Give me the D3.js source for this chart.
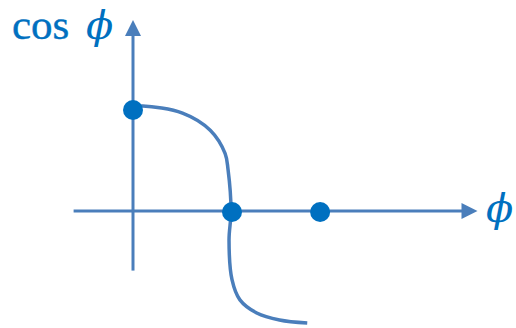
<!DOCTYPE html>
<html>
<head>
<script src="https://d3js.org/d3.v7.min.js"></script>
<style type="text/css">
  body{
    background: white;
    margin: 0px;
  }
  .axis {
    stroke: #4a7ebb;
    stroke-width: 3px;
    fill: none;
  }
  .curve {
    fill: none;
    stroke: #4a7ebb;
    stroke-width: 3.5px;
  }
  .dot {
    fill: #0070c0;
  }
  .lbl {
    fill: #0070c0;
  }
  .phi {
    font-family: 'DejaVu Serif', 'Liberation Serif', serif;
    font-style: italic;
    font-size: 40px;
  }
</style>
</head>
<body>
<script>

// axis extents in data units
var xExtent = [-0.6, 3.48];
var yExtent = [-0.59, 1.89];

// curve
var curveX = [0, 0.10, 0.50, 0.78, 0.93, 0.96, 0.99, 0.97, 1.00, 1.08, 1.25, 1.48, 1.76];
var curveY = [1.03, 1.04, 0.97, 0.80, 0.57, 0.41, 0.0, -0.29, -0.68, -0.88, -1.01, -1.08, -1.11];

// marked points
var dotX = [0, 1, 1.89];
var dotY = [1, -0.01, -0.01];

var width = 516, height = 328;

var svg = d3.select("body").append("svg")
    .attr("width", width)
    .attr("height", height);

var x = d3.scaleLinear().domain([0, 1]).range([133, 232]);
var y = d3.scaleLinear().domain([0, 1]).range([211, 110]);

var headLen = 16, headHalf = 8;

// x axis
svg.append("line")
    .attr("class", "axis")
    .attr("x1", x(xExtent[0])).attr("y1", y(0))
    .attr("x2", x(xExtent[1]) - headLen + 1).attr("y2", y(0));
svg.append("path")
    .attr("fill", "#4a7ebb")
    .attr("d", "M" + x(xExtent[1]) + "," + y(0) +
               "L" + (x(xExtent[1]) - headLen) + "," + (y(0) - headHalf) +
               "L" + (x(xExtent[1]) - headLen) + "," + (y(0) + headHalf) + "Z");

// y axis
svg.append("line")
    .attr("class", "axis")
    .attr("x1", x(0)).attr("y1", y(yExtent[0]))
    .attr("x2", x(0)).attr("y2", y(yExtent[1]) + headLen - 1);
svg.append("path")
    .attr("fill", "#4a7ebb")
    .attr("d", "M" + x(0) + "," + y(yExtent[1]) +
               "L" + (x(0) - headHalf) + "," + (y(yExtent[1]) + headLen) +
               "L" + (x(0) + headHalf) + "," + (y(yExtent[1]) + headLen) + "Z");

var line = d3.line()
    .curve(d3.curveCatmullRom.alpha(0.5))
    .x(function(d) { return x(d[0]); })
    .y(function(d) { return y(d[1]); });

svg.append("path")
    .datum(d3.zip(curveX, curveY))
    .attr("class", "curve")
    .attr("d", line);

svg.selectAll(".dot")
    .data(d3.zip(dotX, dotY))
    .enter().append("circle")
    .attr("class", "dot")
    .attr("cx", function(d) { return x(d[0]); })
    .attr("cy", function(d) { return y(d[1]); })
    .attr("r", 10);

// labels
svg.append("text")
    .attr("class", "lbl")
    .attr("x", 12).attr("y", 39)
    .style("font-family", "'Liberation Serif', serif")
    .style("font-size", "43px")
    .style("stroke", "#0070c0")
    .style("stroke-width", "0.4px")
    .text("cos");

svg.append("text")
    .attr("class", "lbl phi")
    .attr("x", 86).attr("y", 39)
    .text("ϕ");

svg.append("text")
    .attr("class", "lbl phi")
    .attr("x", 486).attr("y", 222)
    .text("ϕ");

</script>
</body>
</html>
